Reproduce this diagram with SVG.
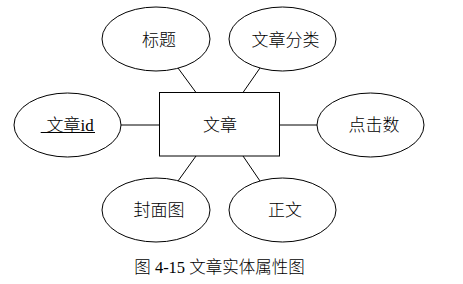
<svg xmlns="http://www.w3.org/2000/svg" width="463" height="284" viewBox="0 0 463 284">
<style>
.s{fill:#fff;stroke:#000;stroke-width:1}
.l{stroke:#000;stroke-width:1;fill:none}
.t{font-family:"Liberation Serif","Noto Sans CJK SC",serif;font-size:17px;font-weight:300;fill:#000;text-anchor:middle}
.c{font-family:"Liberation Serif","Noto Sans CJK SC",serif;font-size:16.5px;font-weight:300;fill:#000;text-anchor:middle}
</style>
<rect width="463" height="284" fill="#fff"/>
<g id="connectors">
<line class="l" x1="178" y1="68" x2="196" y2="92.5"/>
<line class="l" x1="260" y1="68" x2="243" y2="92.5"/>
<line class="l" x1="121" y1="125" x2="159.5" y2="125"/>
<line class="l" x1="279.5" y1="125" x2="317" y2="125"/>
<line class="l" x1="196" y1="156" x2="178" y2="181"/>
<line class="l" x1="243" y1="156" x2="260" y2="181"/>
</g>
<g id="entity">
<rect class="s" x="159.5" y="92.5" width="120" height="63.5"/>
<text class="t" x="220" y="131">文章</text>
</g>
<g id="title">
<ellipse class="s" cx="156" cy="39" rx="54" ry="32"/>
<text class="t" x="159" y="46">标题</text>
</g>
<g id="category">
<ellipse class="s" cx="282.5" cy="39" rx="53.5" ry="32"/>
<text class="t" x="285.5" y="46">文章分类</text>
</g>
<g id="id">
<ellipse class="s" cx="67.5" cy="125" rx="53.5" ry="32"/>
<text class="t" x="68" y="131" xml:space="preserve"> 文章id</text>
<line class="l" x1="40.7" y1="132.5" x2="95" y2="132.5"/>
</g>
<g id="clicks">
<ellipse class="s" cx="370.5" cy="125" rx="53.5" ry="32"/>
<text class="t" x="374" y="131">点击数</text>
</g>
<g id="cover">
<ellipse class="s" cx="156" cy="210" rx="54" ry="32"/>
<text class="t" x="159" y="216">封面图</text>
</g>
<g id="body">
<ellipse class="s" cx="282.5" cy="210" rx="53.5" ry="32"/>
<text class="t" x="285" y="216">正文</text>
</g>
<text class="c" x="219.5" y="273">图 4-15 文章实体属性图</text>
</svg>
